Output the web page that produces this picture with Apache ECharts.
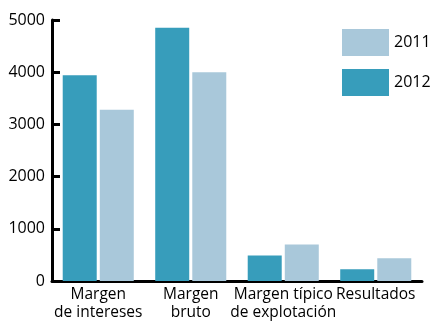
<!DOCTYPE html>
<html><head><meta charset="utf-8">
<script src="https://cdn.jsdelivr.net/npm/echarts@6/dist/echarts.min.js"></script>
<style>html,body{margin:0;padding:0;background:#fff}#c{width:432px;height:322px}</style>
</head><body><div id="c"></div>
<script>
const categories = ['Margen\nde intereses', 'Margen\nbruto', 'Margen típico\nde explotación', 'Resultados'];
const values2012 = [3940, 4850, 490, 225];
const values2011 = [3280, 4000, 700, 435];
const yTicks = [0, 1000, 2000, 3000, 4000, 5000];

const chart = echarts.init(document.getElementById('c'), null, {renderer: 'canvas'});
const font = 'Open Sans';
chart.setOption({
  animation: false,
  textStyle: {fontFamily: font},
  grid: {left: 52, right: 10, top: 20, bottom: 37, containLabel: false},
  legend: {
    orient: 'vertical', left: 342, top: 29, padding: 0,
    itemWidth: 47, itemHeight: 27, itemGap: 13,
    icon: 'rect',
    data: ['2011', '2012'],
    textStyle: {fontFamily: font, fontSize: 16, color: '#000'}
  },
  xAxis: {
    type: 'category', data: categories,
    axisLine: {lineStyle: {color: '#000', width: 3}},
    axisTick: {inside: true, length: 7, lineStyle: {color: '#000', width: 3}},
    axisLabel: {color: '#000', fontSize: 15.5, fontFamily: font, margin: 5, lineHeight: 18, interval: 0}
  },
  yAxis: {
    type: 'value', min: yTicks[0], max: yTicks[yTicks.length-1], interval: 1000,
    axisLine: {show: true, lineStyle: {color: '#000', width: 3}},
    axisTick: {show: true, inside: true, length: 8, lineStyle: {color: '#000', width: 3}},
    splitLine: {show: false},
    axisLabel: {color: '#000', fontSize: 16, fontFamily: font, margin: 7, formatter: v => String(v)}
  },
  series: [
    {name: '2012', type: 'bar', data: values2012, barWidth: 34, barGap: '9%', itemStyle: {color: '#379dbb'}},
    {name: '2011', type: 'bar', data: values2011, barWidth: 34, barGap: '9%', itemStyle: {color: '#a9c8da'}}
  ]
});
</script></body></html>
